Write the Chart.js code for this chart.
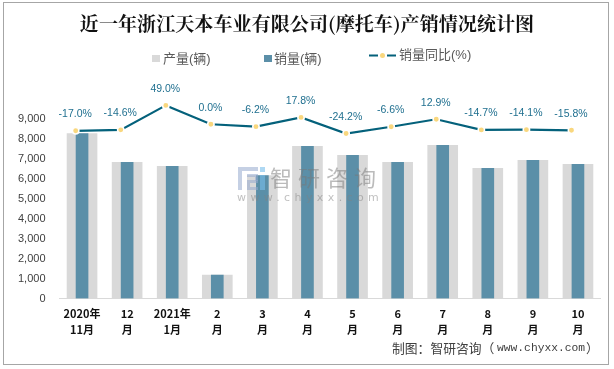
<!DOCTYPE html>
<html>
<head>
<meta charset="utf-8">
<script src="https://cdn.jsdelivr.net/npm/chart.js@4"></script>
<style>
html, body { margin: 0; padding: 0; background: #fff; overflow: hidden; }
#box { position: absolute; left: 3px; top: 2px; width: 604px; height: 361px; border: 1px solid #a6a6a6; }
#wrap { position: absolute; left: 0; top: 0; width: 614px; height: 369px; }
</style>
</head>
<body>
<div id="box"></div>
<div id="wrap"><canvas id="c" width="614" height="369"></canvas></div>
<script>
// Data
const months = [["2020年", "11月"], ["12", "月"], ["2021年", "1月"], ["2", "月"], ["3", "月"], ["4", "月"], ["5", "月"], ["6", "月"], ["7", "月"], ["8", "月"], ["9", "月"], ["10", "月"]];
const output = [8280, 6830, 6630, 1170, 6170, 7630, 7180, 6830, 7680, 6530, 6930, 6730];
const sales = [8280, 6830, 6630, 1170, 6170, 7630, 7180, 6830, 7680, 6530, 6930, 6730];
const salesYoy = [-17.0, -14.6, 49.0, 0.0, -6.2, 17.8, -24.2, -6.6, 12.9, -14.7, -14.1, -15.8];
const yTicks = [0, 1000, 2000, 3000, 4000, 5000, 6000, 7000, 8000, 9000];

const cjk = '"Noto Sans CJK SC", sans-serif';

// legend, watermark and line labels are drawn by hand
const extras = {
    id: 'extras',
    afterDatasetsDraw(chart) {
        const ctx = chart.ctx;
        ctx.save();

        // watermark
        ctx.textAlign = 'left';
        ctx.textBaseline = 'middle';
        ctx.fillStyle = 'rgba(120,120,120,0.5)';
        ctx.font = '22px ' + cjk;
        ctx.letterSpacing = '6px';
        ctx.fillText('智研咨询', 270, 178);
        ctx.font = '11px "DejaVu Sans"';
        ctx.fillStyle = 'rgba(130,130,130,0.5)';
        ctx.letterSpacing = '4.4px';
        ctx.fillText('www.chyxx.com', 237, 198);
        ctx.letterSpacing = '0px';
        ctx.fillStyle = 'rgba(150,170,205,0.55)';
        ctx.fillRect(238, 167, 20, 4);
        ctx.fillRect(238, 171, 4, 19);
        ctx.fillRect(247, 174, 11, 3);
        ctx.fillRect(255, 177, 3, 4);
        ctx.fillRect(247, 180, 11, 3);
        ctx.fillRect(247, 183, 3, 7);
        ctx.fillRect(250, 187, 8, 3);
        ctx.fillStyle = 'rgba(120,190,235,0.6)';
        ctx.fillRect(260, 167, 5, 5);
        ctx.fillRect(260, 175, 5, 15);

        // labels above the line
        const pts = chart.getDatasetMeta(2).data;
        ctx.font = '10.5px "Liberation Sans"';
        ctx.fillStyle = '#1f6f8f';
        ctx.textAlign = 'center';
        pts.forEach((p, i) => {
            ctx.fillText(salesYoy[i].toFixed(1) + '%', p.x - 0.5, p.y - 16.5);
        });

        // legend
        ctx.font = '13px "Liberation Sans", ' + cjk;
        ctx.textAlign = 'left';
        ctx.fillStyle = '#595959';
        ctx.fillText('产量(辆)', 163, 59);
        ctx.fillText('销量(辆)', 274, 59);
        ctx.fillText('销量同比(%)', 399, 55);
        ctx.fillStyle = '#d9d9d9';
        ctx.fillRect(152, 55, 8, 7);
        ctx.fillStyle = '#5b8fa8';
        ctx.fillRect(264, 55, 8, 7);
        ctx.strokeStyle = '#04617b';
        ctx.lineWidth = 2;
        ctx.beginPath();
        ctx.moveTo(369, 55.5);
        ctx.lineTo(378, 55.5);
        ctx.moveTo(387, 55.5);
        ctx.lineTo(396, 55.5);
        ctx.stroke();
        ctx.fillStyle = '#f9d77e';
        ctx.beginPath();
        ctx.arc(382.5, 55.5, 2.5, 0, Math.PI * 2);
        ctx.fill();

        // source line
        ctx.fillStyle = '#404040';
        ctx.font = '12.8px ' + cjk;
        ctx.fillText('制图：智研咨询（', 392, 348);
        ctx.font = '11.3px "Liberation Mono"';
        ctx.fillText('www.chyxx.com', 497, 348);
        ctx.font = '12.8px ' + cjk;
        ctx.fillText('）', 586, 348);
        ctx.restore();
    }
};

new Chart(document.getElementById('c'), {
    type: 'bar',
    data: {
        labels: months,
        datasets: [
            { label: '产量(辆)', data: output, backgroundColor: '#d9d9d9', barThickness: 30, grouped: false, order: 2 },
            { label: '销量(辆)', data: sales, backgroundColor: '#5b8fa8', barThickness: 12, grouped: false, order: 1 },
            { type: 'line', label: '销量同比(%)', data: salesYoy.map((v, i) => ({ x: i, y: v })), xAxisID: 'x2', yAxisID: 'y2', order: 0, borderColor: '#04617b', borderWidth: 2.2, pointRadius: 3.2, pointBackgroundColor: '#f9d77e', pointBorderColor: '#fff', pointBorderWidth: 1.5, tension: 0 }
        ]
    },
    options: {
        responsive: false,
        animation: false,
        plugins: {
            legend: { display: false },
            tooltip: { enabled: false },
            title: {
                display: true,
                text: '近一年浙江天本车业有限公司(摩托车)产销情况统计图',
                color: '#111',
                font: { family: '"Noto Serif CJK SC", "Noto Sans CJK SC", serif', size: 19.1, weight: 'bold', lineHeight: 1.2 },
                padding: { top: 12.5, bottom: 63.8 }
            }
        },
        scales: {
            x: {
                offset: true,
                grid: { display: false, drawTicks: false },
                border: { color: '#d9d9d9' },
                afterFit(axis) { axis.height = 70.5; },
                ticks: { color: '#111', maxRotation: 0, autoSkip: false, font: { family: cjk, size: 11, weight: 'bold', lineHeight: 1.5 }, padding: 7 }
            },
            // the line points sit on the left edge of the blue bars, not on the category centre
            x2: { type: 'linear', display: false, offset: false, min: -0.359, max: 11.644 },
            y: {
                min: 0,
                max: 10000,
                afterBuildTicks(axis) { axis.ticks = yTicks.map(v => ({ value: v })); },
                afterFit(axis) { axis.width = 59.5; },
                grid: { display: false, drawTicks: false },
                border: { display: false },
                ticks: { color: '#404040', font: { family: '"Liberation Sans"', size: 11 }, padding: 14, callback: v => v.toLocaleString('en-US') }
            },
            // kept on screen with no marks so the right margin balances the title
            y2: {
                position: 'right',
                min: -452.7,
                max: 65,
                afterFit(axis) { axis.width = 13.5; },
                grid: { display: false, drawTicks: false },
                border: { display: false },
                ticks: { display: false }
            }
        }
    },
    plugins: [extras]
});
</script>
</body>
</html>
